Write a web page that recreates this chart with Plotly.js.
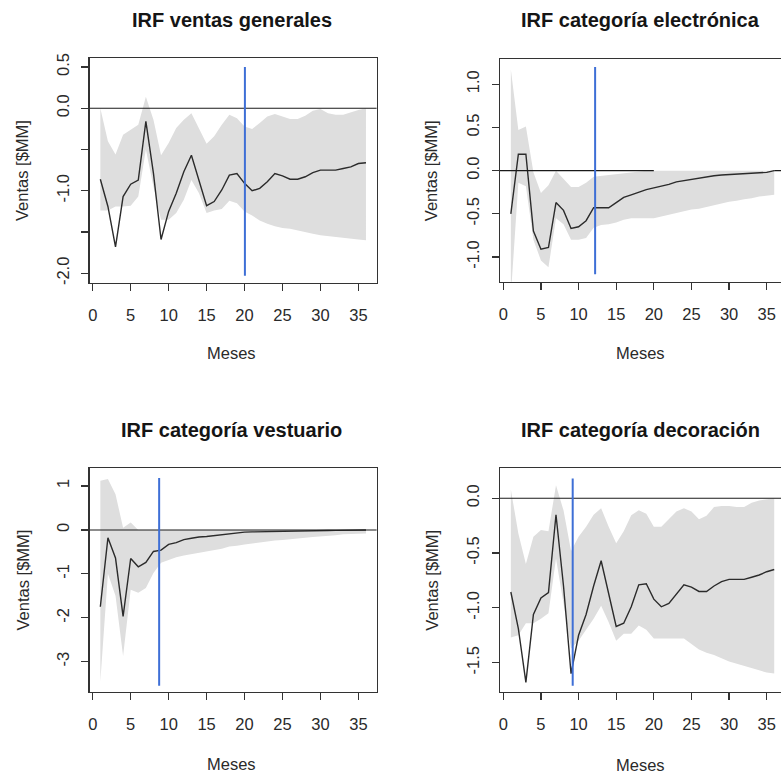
<!DOCTYPE html>
<html><head><meta charset="utf-8">
<script src="https://cdn.plot.ly/plotly-3.0.1.min.js"></script>
<style>html,body{margin:0;padding:0;background:#fff}#chart{width:781px;height:775px}</style>
</head><body><div id="chart"></div>
<script>
// ---------- data ----------
const meses = [1,2,3,4,5,6,7,8,9,10,11,12,13,14,15,16,17,18,19,20,21,22,23,24,25,26,27,28,29,30,31,32,33,34,35,36];
const titulos = ['IRF ventas generales','IRF categoría electrónica','IRF categoría vestuario','IRF categoría decoración'];
const tituloX = 'Meses';
const tituloY = 'Ventas [$MM]';

const irfGenerales = [-0.86,-1.19,-1.68,-1.07,-0.92,-0.87,-0.16,-0.79,-1.59,-1.25,-1.03,-0.77,-0.57,-0.89,-1.18,-1.13,-0.99,-0.81,-0.79,-0.91,-1.00,-0.97,-0.89,-0.79,-0.82,-0.86,-0.86,-0.83,-0.78,-0.75,-0.75,-0.75,-0.73,-0.71,-0.67,-0.66];
const supGenerales = [0.0,-0.40,-0.56,-0.32,-0.26,-0.20,0.14,-0.14,-0.57,-0.42,-0.24,-0.14,-0.06,-0.24,-0.43,-0.34,-0.20,-0.08,-0.12,-0.22,-0.25,-0.18,-0.10,-0.07,-0.10,-0.13,-0.13,-0.09,-0.03,-0.01,-0.06,-0.08,-0.08,-0.05,-0.02,0.0];
const infGenerales = [-1.24,-1.24,-1.19,-1.19,-1.18,-1.07,-0.50,-0.95,-1.35,-1.35,-1.27,-1.11,-0.87,-1.03,-1.27,-1.24,-1.22,-1.12,-1.15,-1.25,-1.30,-1.36,-1.40,-1.43,-1.45,-1.46,-1.48,-1.50,-1.52,-1.54,-1.55,-1.56,-1.57,-1.58,-1.59,-1.60];

const irfElectronica = [-0.50,0.19,0.19,-0.70,-0.91,-0.89,-0.37,-0.46,-0.67,-0.65,-0.58,-0.43,-0.43,-0.43,-0.37,-0.31,-0.28,-0.25,-0.22,-0.20,-0.18,-0.16,-0.13,-0.115,-0.10,-0.085,-0.07,-0.06,-0.05,-0.045,-0.04,-0.035,-0.03,-0.025,-0.02,0.0];
const supElectronica = [1.17,0.47,0.51,-0.02,-0.26,-0.17,0.0,-0.09,-0.19,-0.19,-0.14,-0.07,-0.06,-0.05,-0.04,-0.03,-0.02,-0.01,0.0,0.0,0.0,0.0,0.0,0.0,0.0,0.0,0.0,0.0,0.0,0.0,0.0,0.0,0.0,0.0,0.0,0.0];
const infElectronica = [-1.45,-0.14,-0.18,-0.80,-1.04,-1.12,-0.55,-0.62,-0.80,-0.80,-0.78,-0.66,-0.63,-0.62,-0.60,-0.57,-0.55,-0.55,-0.55,-0.55,-0.53,-0.51,-0.49,-0.47,-0.45,-0.44,-0.42,-0.40,-0.38,-0.36,-0.35,-0.33,-0.32,-0.30,-0.29,-0.28];

const irfVestuario = [-1.75,-0.18,-0.64,-1.97,-0.65,-0.84,-0.74,-0.49,-0.46,-0.33,-0.29,-0.22,-0.19,-0.16,-0.15,-0.13,-0.10,-0.08,-0.06,-0.05,-0.045,-0.04,-0.035,-0.03,-0.027,-0.024,-0.02,-0.018,-0.016,-0.014,-0.012,-0.01,-0.008,-0.005,-0.003,-0.002];
const supVestuario = [1.12,1.16,0.81,0.05,0.17,0.0,0.0,0.0,0.0,0.0,0.0,0.0,0.0,0.0,0.0,0.0,0.0,0.0,0.0,0.0,0.0,0.0,0.0,0.0,0.0,0.0,0.0,0.0,0.0,0.0,0.0,0.0,0.0,0.0,0.0,0.0];
const infVestuario = [-3.45,-1.00,-1.50,-2.87,-1.36,-1.43,-1.32,-0.98,-0.75,-0.68,-0.62,-0.58,-0.54,-0.51,-0.49,-0.46,-0.43,-0.38,-0.36,-0.33,-0.30,-0.28,-0.26,-0.24,-0.23,-0.22,-0.20,-0.18,-0.16,-0.15,-0.13,-0.12,-0.10,-0.09,-0.085,-0.08];

const irfDecoracion = [-0.855,-1.19,-1.68,-1.06,-0.91,-0.86,-0.15,-0.80,-1.60,-1.25,-1.06,-0.80,-0.57,-0.88,-1.17,-1.14,-0.99,-0.79,-0.78,-0.92,-0.99,-0.96,-0.88,-0.79,-0.81,-0.85,-0.85,-0.80,-0.76,-0.74,-0.74,-0.74,-0.72,-0.70,-0.67,-0.65];
const supDecoracion = [0.08,-0.32,-0.60,-0.35,-0.29,-0.30,0.12,-0.11,-0.48,-0.35,-0.26,-0.15,-0.09,-0.26,-0.41,-0.30,-0.155,-0.11,-0.14,-0.26,-0.26,-0.19,-0.12,-0.09,-0.12,-0.19,-0.16,-0.08,-0.07,-0.07,-0.08,-0.08,-0.04,-0.02,-0.01,0.0];
const infDecoracion = [-1.27,-1.25,-1.14,-1.14,-1.10,-1.05,-0.55,-0.95,-1.37,-1.30,-1.20,-1.10,-0.98,-1.13,-1.30,-1.235,-1.235,-1.16,-1.20,-1.28,-1.28,-1.28,-1.28,-1.28,-1.33,-1.38,-1.41,-1.43,-1.46,-1.49,-1.51,-1.53,-1.55,-1.57,-1.59,-1.60];

// vertical blue reference line per panel (month, from, to)
const corteMes   = [20.05, 12.2, 8.75, 9.22];
const corteDesde = [-2.03, -1.2, -3.55, -1.71];
const corteHasta = [0.5, 1.2, 1.18, 0.18];

// zero line segments (electrónica shows it only partially)
const ceroTramos = [[[-1, 40]], [[-1, 20], [36, 40]], [[-1, 40]], [[-1, 40]]];

const xTicks = [0,5,10,15,20,25,30,35];
const yTicksGen = [0.5,0,-0.5,-1,-1.5,-2];       const yTextGen = ['0.5','0.0','','-1.0','','-2.0'];
const yTicksEle = [1,0.5,0,-0.5,-1];             const yTextEle = ['1.0','0.5','0.0','-0.5','-1.0'];
const yTicksVes = [1,0,-1,-2,-3];                const yTextVes = ['1','0','-1','-2','-3'];
const yTicksDec = [0,-0.5,-1,-1.5];              const yTextDec = ['0.0','-0.5','-1.0','-1.5'];

// ---------- layout geometry (pixels) ----------
const W = 781, H = 775;
const panels = [
  {l:89.7, r:376.6, t:58.3,  b:283,   xr:[-0.4,37.4],  yr:[-2.117,0.605], irf:irfGenerales,   sup:supGenerales,   inf:infGenerales,   yt:yTicksGen, ytt:yTextGen, full:true},
  {l:500,  r:781,   t:59.3,  b:281.7, xr:[-0.44,36.9], yr:[-1.286,1.289], irf:irfElectronica, sup:supElectronica, inf:infElectronica, yt:yTicksEle, ytt:yTextEle, full:false},
  {l:89.7, r:376.6, t:468.3, b:691.7, xr:[-0.4,37.4],  yr:[-3.683,1.403], irf:irfVestuario,   sup:supVestuario,   inf:infVestuario,   yt:yTicksVes, ytt:yTextVes, full:true},
  {l:500,  r:781,   t:468.3, b:691.7, xr:[-0.44,36.9], yr:[-1.765,0.274], irf:irfDecoracion,  sup:supDecoracion,  inf:infDecoracion,  yt:yTicksDec, ytt:yTextDec, full:false}
];
const titlePos = [[231.7,20],[640.8,20],[231.7,430],[640.8,430]];
const mesesPos = [[231.7,353.5],[640.8,353.5],[231.7,764],[640.8,765]];
const ventasPos = [[22.5,170.5],[431.7,170.5],[22.5,580],[431.7,580]];

const FONT = 'Liberation Sans, Arial, Helvetica, sans-serif';
const INK = '#2a2a2a';
const px = v => v / W, py = v => 1 - v / H;

const traces = [];
const layout = {
  width: W, height: H, margin:{l:0,r:0,t:0,b:0},
  paper_bgcolor:'#ffffff', plot_bgcolor:'#ffffff',
  showlegend:false, font:{family:FONT, size:16.5, color:INK},
  annotations:[]
};

panels.forEach((p, i) => {
  const n = i === 0 ? '' : String(i + 1);
  const xa = 'x' + n, ya = 'y' + n;
  traces.push({
    x: meses.concat(meses.slice().reverse()),
    y: p.sup.concat(p.inf.slice().reverse()),
    xaxis: xa, yaxis: ya, type:'scatter', mode:'lines',
    fill:'toself', fillcolor:'#dedede', line:{width:0, color:'#dedede'}, hoverinfo:'skip'
  });
  traces.push({
    x: meses, y: p.irf, xaxis: xa, yaxis: ya, type:'scatter', mode:'lines',
    line:{color:'#2b2b2b', width:1.4}
  });
  ceroTramos[i].forEach(seg => {
    traces.push({
      x: seg, y: [0, 0], xaxis: xa, yaxis: ya, type:'scatter', mode:'lines',
      line:{color:'#1a1a1a', width:1.1}
    });
  });
  traces.push({
    x: [corteMes[i], corteMes[i]], y: [corteDesde[i], corteHasta[i]],
    xaxis: xa, yaxis: ya, type:'scatter', mode:'lines',
    line:{color:'#3e6fd6', width:2}
  });

  layout['xaxis' + n] = {
    domain:[px(p.l), px(p.r)], range:p.xr, anchor:ya,
    tickvals:xTicks, ticktext:xTicks.map(String), ticks:'outside', ticklen:7, tickwidth:1.2, tickcolor:'#333',
    showline:true, mirror:true, linecolor:'#333', linewidth:1.3,
    showgrid:false, zeroline:false, ticklabelstandoff:10,
    tickfont:{family:FONT, size:16.5, color:INK}, fixedrange:true
  };
  layout['yaxis' + n] = {
    domain:[py(p.b), py(p.t)], range:p.yr, anchor:xa,
    tickvals:p.yt, ticktext:p.ytt, ticks:'outside', ticklen:7, tickwidth:1.2, tickcolor:'#333',
    tickangle:-90,
    showline:true, mirror:p.full ? true : false, linecolor:'#333', linewidth:1.3,
    showgrid:false, zeroline:false, ticklabelstandoff:6,
    tickfont:{family:FONT, size:16.5, color:INK}, fixedrange:true
  };

  layout.annotations.push({
    text:'<b>' + titulos[i] + '</b>', xref:'paper', yref:'paper',
    x:px(titlePos[i][0]), y:py(titlePos[i][1]), xanchor:'center', yanchor:'middle',
    showarrow:false, font:{family:FONT, size:20, color:'#151515'}
  });
  layout.annotations.push({
    text:tituloX, xref:'paper', yref:'paper',
    x:px(mesesPos[i][0]), y:py(mesesPos[i][1]), xanchor:'center', yanchor:'middle',
    showarrow:false, font:{family:FONT, size:16.5, color:INK}
  });
  layout.annotations.push({
    text:tituloY, xref:'paper', yref:'paper', textangle:-90,
    x:px(ventasPos[i][0]), y:py(ventasPos[i][1]), xanchor:'center', yanchor:'middle',
    showarrow:false, font:{family:FONT, size:16.5, color:INK}
  });
});

Plotly.newPlot('chart', traces, layout, {staticPlot:true, displayModeBar:false});
</script></body></html>
